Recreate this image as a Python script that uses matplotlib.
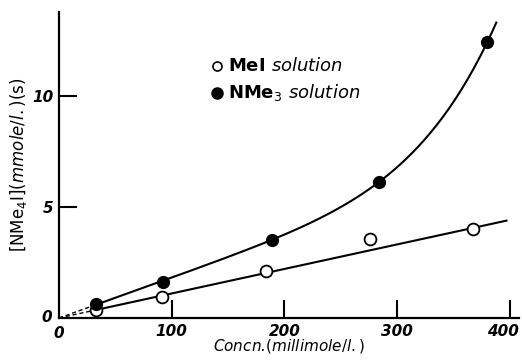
import numpy as np
import matplotlib.pyplot as plt
import matplotlib.transforms as mtransforms

# Data
mei_x = [33, 91, 184, 276, 367]
mei_y = [0.36, 0.95, 2.13, 3.57, 4.03]
nme3_x = [33, 92, 189, 284, 380]
nme3_y = [0.63, 1.63, 3.53, 6.15, 12.44]

# drawn straight line for MeI (through origin)
mei_line_x = [0, 397]
mei_line_y = [0, 4.39]
# end of the smooth NMe3 curve
curve_end = 388

x_ticks = [0, 100, 200, 300, 400]
x_labels = ["0", "100", "200", "300", "400"]
y_ticks = [0, 5, 10]
y_labels = ["0", "5", "10"]

fig = plt.figure(figsize=(5.22, 3.63), dpi=100)
ax = fig.add_axes([0.113, 0.124, 0.881, 0.843])

# MeI line
slope = mei_line_y[1] / mei_line_x[1]
ax.plot([0, 30], [0, 30 * slope], color="black", lw=1.0, ls=(0, (3, 2)))
ax.plot([30, mei_line_x[1]], [30 * slope, mei_line_y[1]], color="black", lw=1.5)

# NMe3 curve: y = a*x + b*x^6 least squares
nx = np.array(nme3_x, float)
A = np.column_stack([nx, (nx / 100) ** 6])
(a, b), *_ = np.linalg.lstsq(A, np.array(nme3_y), rcond=None)
def curve(x):
    return a * x + b * (x / 100) ** 6
xs = np.linspace(30, curve_end, 200)
ax.plot(xs, curve(xs), color="black", lw=1.5)
xd = np.linspace(0, 30, 20)
ax.plot(xd, curve(xd), color="black", lw=1.0, ls=(0, (3, 2)))

ax.plot(mei_x, mei_y, "o", ms=8.5, mfc="white", mec="black", mew=1.3, zorder=3)
ax.plot(nme3_x, nme3_y, "o", ms=8.5, mfc="black", mec="black", zorder=3)

ax.set_xlim(0, 408)
ax.set_ylim(0, 13.8)
ax.spines["top"].set_visible(False)
ax.spines["right"].set_visible(False)
ax.spines["left"].set_linewidth(1.6)
ax.spines["bottom"].set_linewidth(1.6)
ax.set_xticks(x_ticks[1:])
ax.set_xticklabels(x_labels[1:])
ax.set_yticks(y_ticks[1:])
ax.set_yticklabels(y_labels[1:])
ax.tick_params(axis="both", direction="in", length=13, width=1.5,
               labelsize=11, pad=4)
for lab in ax.get_xticklabels() + ax.get_yticklabels():
    lab.set_fontstyle("italic")
    lab.set_fontweight("bold")
# nudge the last x label so it stays inside the figure
last = ax.get_xticklabels()[-1]
last.set_transform(last.get_transform() +
                   mtransforms.ScaledTranslation(-0.07, 0, fig.dpi_scale_trans))
# origin labels
ax.text(0, -0.35, "0", ha="center", va="top", fontsize=11,
        style="italic", weight="bold")
ax.text(-6, 0, "0", ha="right", va="center", fontsize=11,
        style="italic", weight="bold")

ax.set_xlabel("Concn.$\\it{(millimole/l.)}$", fontsize=11, labelpad=-1,
              style="italic")
ax.set_ylabel("[NMe$_4$I]$\\it{(mmole/l.)}$(s)", fontsize=12, labelpad=2)

# legend
ax.plot([140], [11.35], "o", ms=6.5, mfc="white", mec="black", mew=1.2,
        clip_on=False)
ax.plot([140], [10.15], "o", ms=8, mfc="black", mec="black", clip_on=False)
ax.text(150, 11.35, "MeI $\\it{solution}$", fontsize=13, va="center",
        weight="bold")
ax.text(150, 10.15, "NMe$_3$ $\\it{solution}$", fontsize=13, va="center",
        weight="bold")

fig.savefig("out.png", dpi=100)
